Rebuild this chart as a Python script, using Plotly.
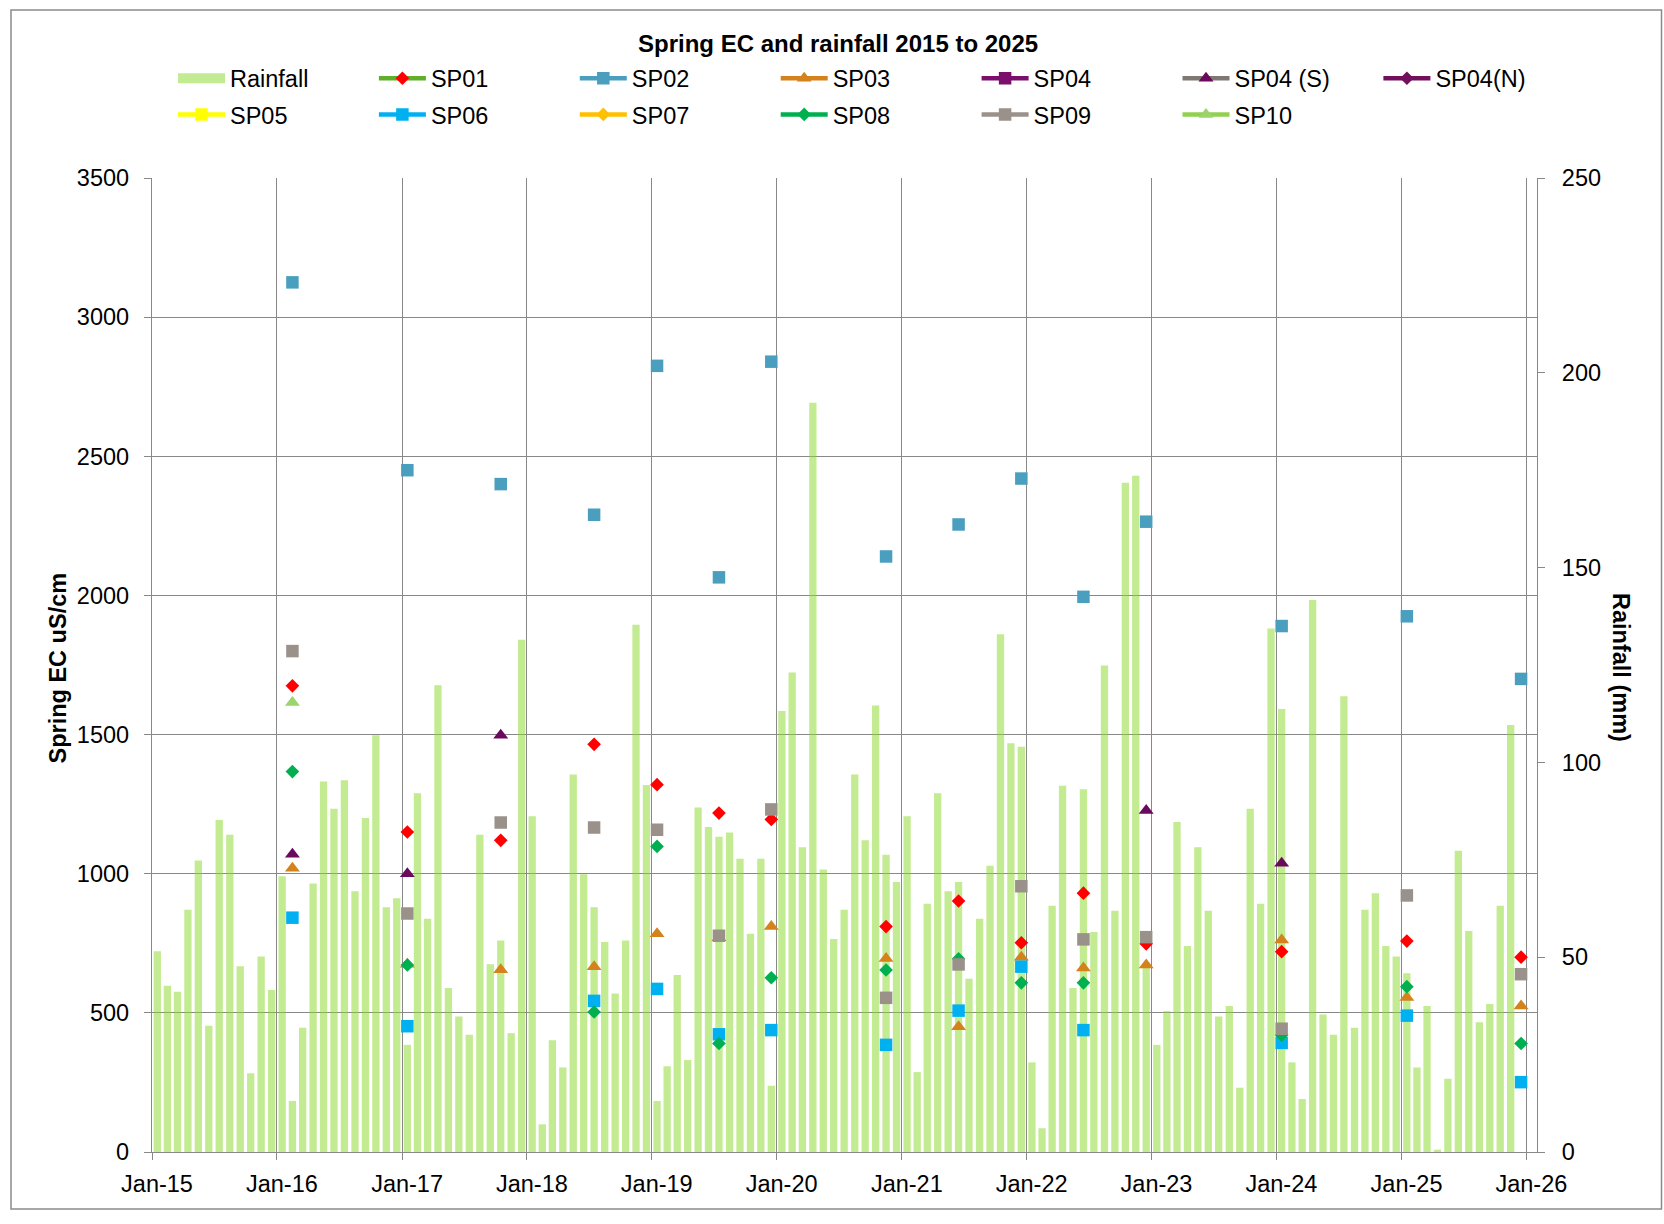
import plotly.graph_objects as go

# ---------------------------------------------------------------- data
months = [f"{y}-{m:02d}" for y in range(2015, 2026) for m in range(1, 13)]

# monthly rainfall (mm), one list per year
rain_2015 = [51.5, 42.7, 41.1, 62.2, 74.8, 32.4, 85.2, 81.4, 47.7, 20.2, 50.2, 41.6]
rain_2016 = [70.8, 13.1, 31.9, 68.9, 95.1, 88.1, 95.4, 66.9, 85.7, 107.0, 62.8, 65.1]
rain_2017 = [27.5, 92.1, 59.9, 119.8, 42.1, 34.8, 30.1, 81.4, 48.2, 54.3, 30.5, 131.5]
rain_2018 = [86.2, 7.1, 28.7, 21.7, 96.9, 71.3, 62.8, 53.9, 40.7, 54.3, 135.3, 94.2]
rain_2019 = [13.1, 22.0, 45.4, 23.6, 88.4, 83.4, 80.9, 82.0, 75.3, 56.0, 75.3, 17.0]
rain_2020 = [113.2, 123.1, 78.2, 192.3, 72.5, 54.7, 62.2, 96.9, 80.0, 114.6, 76.3, 69.3]
rain_2021 = [86.2, 20.5, 63.7, 92.1, 66.9, 69.3, 44.5, 59.9, 73.5, 132.9, 104.9, 104.0]
rain_2022 = [23.0, 6.1, 63.2, 94.0, 42.1, 93.1, 56.5, 124.9, 61.9, 171.8, 173.6, 48.2]
rain_2023 = [27.5, 36.2, 84.7, 52.9, 78.2, 61.9, 34.8, 37.5, 16.5, 88.1, 63.7, 134.4]
rain_2024 = [113.7, 23.0, 13.6, 141.7, 35.3, 30.1, 117.0, 31.9, 62.2, 66.4, 52.9, 50.2]
rain_2025 = [45.9, 21.7, 37.5, 0.6, 18.8, 77.3, 56.7, 33.3, 38.0, 63.2, 109.6, None]

rain_mm = (rain_2015 + rain_2016 + rain_2017 + rain_2018 + rain_2019 + rain_2020
           + rain_2021 + rain_2022 + rain_2023 + rain_2024 + rain_2025)

# spring EC sampling rounds (uS/cm)
sample_months = ["2016-02", "2017-01", "2017-10", "2018-07", "2019-01",
                 "2019-07", "2019-12", "2020-11", "2021-06", "2021-12",
                 "2022-06", "2022-12", "2024-01", "2025-01", "2025-12"]

sp01 = [1675, 1150, 1120, 1465, 1320, 1218, 1195, 810, 902, 752, 930, 748, 720, 758, 700]
sp02 = [3125, 2450, 2400, 2290, 2825, 2065, 2840, 2140, 2255, 2420, 1995, 2265, 1890, 1925, 1700]
sp03 = [1020, 675, 655, 666, 784, 770, 810, 695, 450, 700, 661, 672, 762, 555, 525]
sp04 = [None] * 15
sp04_s = [1070, 1000, 1498, None, None, None, None, None, None, None, None, 1227, 1038, None, None]
sp04_n = [None] * 15
sp05 = [None] * 15
sp06 = [842, 452, None, 543, 586, 423, 438, 385, 508, 666, 438, None, 392, 490, 251]
sp07 = [None] * 15
sp08 = [1367, 672, None, 503, 1098, 390, 626, 654, 694, 608, 608, None, 420, 594, 390]
sp09 = [1800, 857, 1184, 1166, 1158, 777, 1231, 554, 674, 955, 764, 772, 443, 922, 639]
sp10 = [1615, None, None, None, None, None, None, None, None, None, None, None, None, None, None]

series_names = ["SP01", "SP02", "SP03", "SP04", "SP04 (S)", "SP04(N)",
                "SP05", "SP06", "SP07", "SP08", "SP09", "SP10"]
series_values = [sp01, sp02, sp03, sp04, sp04_s, sp04_n,
                 sp05, sp06, sp07, sp08, sp09, sp10]
# legend block each series is listed in (top row is split in two blocks)
series_legend = ["legend", "legend", "legend", "legend3", "legend3", "legend3",
                 "legend2", "legend2", "legend2", "legend2", "legend2", "legend2"]

# ---------------------------------------------------------------- styles
# (marker symbol, marker colour, legend line colour)
series_style = {
    "SP01": ("diamond", "#FF0000", "#5FAE2C"),
    "SP02": ("square", "#4A9FBF", "#4A9FBF"),
    "SP03": ("triangle-up", "#D4821C", "#D4821C"),
    "SP04": ("square", "#7B0F6B", "#7B0F6B"),
    "SP04 (S)": ("triangle-up", "#690A5C", "#7F7772"),
    "SP04(N)": ("diamond", "#72105E", "#72105E"),
    "SP05": ("square", "#FFFF00", "#FFFF00"),
    "SP06": ("square", "#00B0F0", "#00B0F0"),
    "SP07": ("diamond", "#FFC000", "#FFC000"),
    "SP08": ("diamond", "#00B050", "#00B050"),
    "SP09": ("square", "#9A918A", "#9A918A"),
    "SP10": ("triangle-up", "#9BD46A", "#92D050"),
}
marker_size = {"square": 12.5, "diamond": 10.5, "triangle-up": 13}

W, H = 1664, 1224
PL, PR, PT, PB = 152, 1537, 178, 1152      # plot box in page pixels
GRID = "#888888"
BAR = "rgba(135,215,35,0.5)"
FONT = "Liberation Sans, Arial, sans-serif"
FS = 23.5
LEG_X0, LEG_STEP = 173, 200.9              # legend column origin / pitch
ROW1_Y, ROW2_Y = 78.5, 114.6


def fx(px):
    return (px - PL) / (PR - PL)


def fy(py):
    return (PB - py) / (PB - PT)


MONTH_MS = 30.44 * 86400000

fig = go.Figure()

# rainfall bars on the right-hand axis (drawn underneath)
fig.add_trace(go.Bar(
    x=months[:len(rain_mm)], y=rain_mm, name="Rainfall",
    xperiod="M1", xperiodalignment="middle", width=0.70 * MONTH_MS,
    marker=dict(color=BAR, line=dict(width=0)),
    yaxis="y", showlegend=False,
))
# legend swatch for the rainfall bars
fig.add_trace(go.Scatter(
    x=[None], y=[None], mode="lines", name="Rainfall",
    line=dict(color=BAR, width=16), yaxis="y", legend="legend",
))

# spring EC series on the left-hand axis
for name, vals, leg in zip(series_names, series_values, series_legend):
    lookup = dict(zip(sample_months, vals))
    yv = [lookup.get(m) for m in months]
    sym, mcol, lcol = series_style[name]
    fig.add_trace(go.Scatter(
        x=months, y=yv, name=name, mode="lines+markers",
        xperiod="M1", xperiodalignment="middle",
        connectgaps=False,
        line=dict(color=lcol, width=4.5),
        marker=dict(symbol=sym, size=marker_size[sym], color=mcol,
                    line=dict(width=0)),
        yaxis="y2", legend=leg,
    ))

tickfont = dict(family=FONT, size=FS, color="#000000")
legend_common = dict(
    orientation="h", xanchor="left", yanchor="middle",
    xref="container", yref="container",
    entrywidth=LEG_STEP - 62, entrywidthmode="pixels", itemwidth=47,
    font=dict(family=FONT, size=FS, color="#000000"),
    bgcolor="rgba(0,0,0,0)", borderwidth=0, traceorder="normal",
)

fig.update_layout(
    width=W, height=H, autosize=False,
    margin=dict(l=PL, r=W - PR, t=PT, b=H - PB, pad=0),
    paper_bgcolor="white", plot_bgcolor="white",
    bargap=0.3, showlegend=True,
    xaxis=dict(
        type="date", range=["2015-01-01", "2026-02-01"],
        tick0="2015-01-01", dtick="M12", tickformat="%b-%y",
        ticks="outside", ticklen=7, tickwidth=1.3, tickcolor=GRID,
        showgrid=True, gridcolor=GRID, gridwidth=1.3,
        showline=True, linecolor=GRID, linewidth=1.3,
        zeroline=False, tickfont=tickfont, ticklabelshift=5,
        ticklabelstandoff=4,
    ),
    yaxis=dict(
        side="right", range=[0, 250], tick0=0, dtick=50,
        ticks="outside", ticklen=7, tickwidth=1.3, tickcolor=GRID,
        showgrid=False, zeroline=False,
        showline=True, linecolor=GRID, linewidth=1.3,
        tickfont=tickfont, ticklabelstandoff=12,
    ),
    yaxis2=dict(
        overlaying="y", side="left", range=[0, 3500], tick0=0, dtick=500,
        ticks="outside", ticklen=7, tickwidth=1.3, tickcolor=GRID,
        showgrid=True, gridcolor=GRID, gridwidth=1.3, zeroline=False,
        showline=True, linecolor=GRID, linewidth=1.3,
        tickfont=tickfont, ticklabelstandoff=10,
    ),
    legend=dict(x=LEG_X0 / W, y=1 - ROW1_Y / H, **legend_common),
    legend3=dict(x=(LEG_X0 + 4 * LEG_STEP) / W, y=1 - ROW1_Y / H,
                 **legend_common),
    legend2=dict(x=LEG_X0 / W, y=1 - ROW2_Y / H, **legend_common),
    annotations=[
        dict(text="<b>Spring EC and rainfall 2015 to 2025</b>",
             x=fx(837.5), y=fy(43.5), xref="paper", yref="paper",
             xanchor="center", yanchor="middle", showarrow=False,
             font=dict(family=FONT, size=24, color="#000000")),
        dict(text="<b>Spring EC uS/cm</b>",
             x=fx(57), y=fy(668.5), xref="paper", yref="paper",
             xanchor="center", yanchor="middle", showarrow=False,
             textangle=-90,
             font=dict(family=FONT, size=FS, color="#000000")),
        dict(text="<b>Rainfall (mm)</b>",
             x=fx(1621), y=fy(667), xref="paper", yref="paper",
             xanchor="center", yanchor="middle", showarrow=False,
             textangle=90,
             font=dict(family=FONT, size=FS, color="#000000")),
    ],
    shapes=[
        dict(type="rect", xref="paper", yref="paper",
             x0=fx(11), x1=fx(1661.5), y0=fy(1209), y1=fy(10),
             line=dict(color="#8a8a8a", width=1.5), fillcolor="rgba(0,0,0,0)",
             layer="above"),
    ],
)

fig.write_html("out.html")
